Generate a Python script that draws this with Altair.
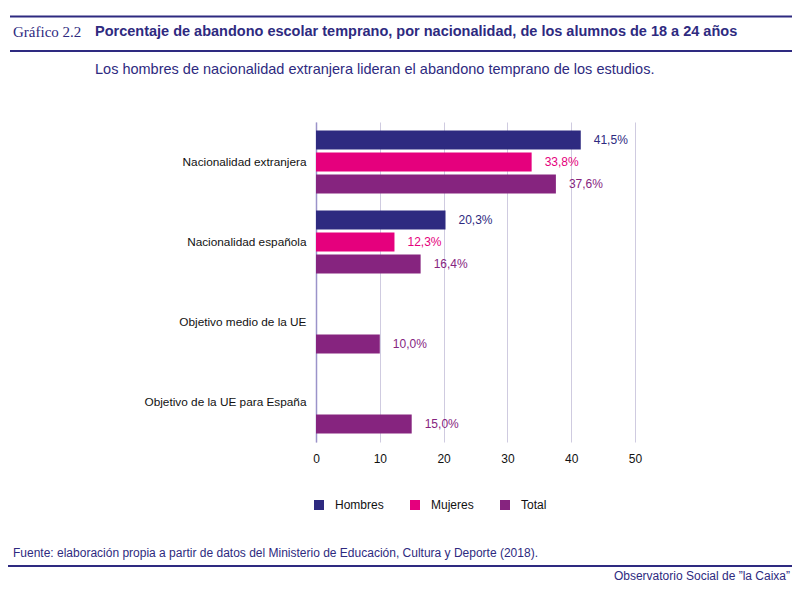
import altair as alt
import pandas as pd

categories = ["Nacionalidad extranjera", "Nacionalidad española",
              "Objetivo medio de la UE", "Objetivo de la UE para España"]
series = ["Hombres", "Mujeres", "Total"]
colors = ["#2e2a80", "#e5007d", "#86247f"]

hombres = [41.5, 20.3, None, None]
mujeres = [33.8, 12.3, None, None]
total = [37.6, 16.4, 10.0, 15.0]

x_ticks = [0, 10, 20, 30, 40, 50]

rows = []
for i, c in enumerate(categories):
    for s, vals in zip(series, [hombres, mujeres, total]):
        v = vals[i]
        if v is not None:
            rows.append({"cat": c, "serie": s, "valor": v,
                         "label": f"{v:.1f}".replace(".", ",") + "%"})
df = pd.DataFrame(rows)

INDIGO = "#2e2a80"
FONT = "Liberation Sans"

color_scale = alt.Scale(domain=series, range=colors)

base = alt.Chart(df)

bars = base.mark_bar(size=19).encode(
    x=alt.X("valor:Q", scale=alt.Scale(domain=[0, 50], nice=False),
            axis=alt.Axis(values=x_ticks, title=None, ticks=False, domain=False,
                          grid=True, gridColor="#cfcbe0", gridWidth=1, labelFlush=False,
                          labelFont=FONT, labelFontSize=12, labelColor="#111111",
                          labelPadding=11)),
    y=alt.Y("cat:N", sort=categories,
            scale=alt.Scale(paddingInner=0, paddingOuter=0),
            axis=alt.Axis(title=None, ticks=False, domain=True, domainColor="#9b93c9",
                          domainWidth=1.5, labelFont=FONT, labelFontSize=11.8,
                          labelColor="#111111", labelPadding=10, labelLimit=300)),
    yOffset=alt.YOffset("serie:N", sort=series,
                        scale=alt.Scale(domain=series, paddingInner=0.136, paddingOuter=0.386)),
    color=alt.Color("serie:N", scale=color_scale, sort=series,
                    legend=alt.Legend(title=None, orient="none", direction="horizontal",
                                      legendX=-3, legendY=377, symbolType="square",
                                      symbolSize=100, symbolStrokeWidth=0,
                                      labelFont=FONT, labelFontSize=12, labelColor="#111111",
                                      labelOffset=10, columnPadding=25)),
)

labels = base.mark_text(align="left", baseline="middle", dx=13, font=FONT, fontSize=12).encode(
    x="valor:Q",
    y=alt.Y("cat:N", sort=categories),
    yOffset=alt.YOffset("serie:N", sort=series),
    text="label:N",
    color=alt.Color("serie:N", scale=color_scale, legend=None),
)

# Header / footer decorations (pixel positions relative to plot area)
def rule(y, x1, x2):
    return alt.Chart(pd.DataFrame({"a": [0]})).mark_rule(color=INDIGO, strokeWidth=2).encode(
        x=alt.value(x1), x2=alt.value(x2), y=alt.value(y))

def txt(s, x, y, size, font=FONT, weight="normal", align="left", color=INDIGO):
    return alt.Chart(pd.DataFrame({"t": [s]})).mark_text(
        align=align, baseline="middle", font=font, fontSize=size, fontWeight=weight,
        color=color).encode(x=alt.value(x), y=alt.value(y), text="t:N")

deco = [
    rule(-105.5, -306, 476),
    txt("Gráfico 2.2", -303, -90, 15, font="Liberation Serif"),
    txt("Porcentaje de abandono escolar temprano, por nacionalidad, de los alumnos de 18 a 24 años",
        -221, -90, 14.5, weight="bold"),
    rule(-71, -306, 476),
    txt("Los hombres de nacionalidad extranjera lideran el abandono temprano de los estudios.",
        -221, -52, 14.5),
    txt("Fuente: elaboración propia a partir de datos del Ministerio de Educación, Cultura y Deporte (2018).",
        -303, 431, 12),
    rule(444, -308, 476),
    txt("Observatorio Social de \u201dla Caixa\u201d", 474, 453.5, 12, align="right"),
]

chart = alt.layer(bars, labels, *deco).properties(
    width=319, height=320,
    autosize=alt.AutoSizeParams(type="none"),
    padding={"left": 308, "top": 114, "right": 157, "bottom": 141},
    background="white",
).configure_view(stroke=None)

chart.save("out.html", embed_options={"renderer": "svg", "actions": False})
